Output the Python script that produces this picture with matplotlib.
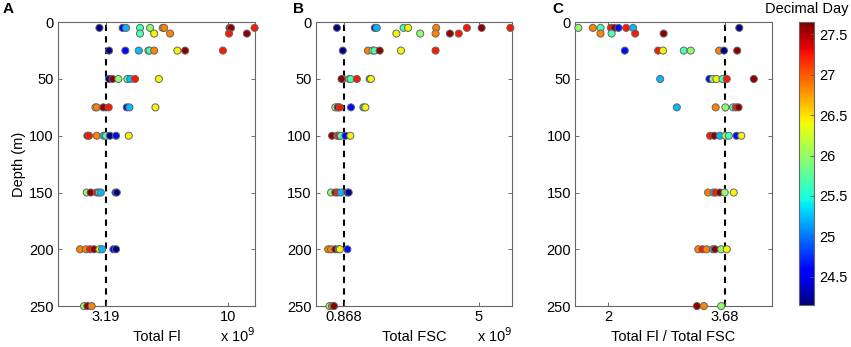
import numpy as np
import matplotlib
matplotlib.use('Agg')
import matplotlib.pyplot as plt

plt.rcParams['font.family'] = ['Liberation Sans', 'DejaVu Sans']
plt.rcParams['font.size'] = 10.5

# decimal day of each cast (colour codes)
N, B, C, Q, G, Y, O, R, D = 24.2, 24.62, 25.22, 25.68, 25.97, 26.42, 26.85, 27.25, 27.6

# Panel A: Total Fl (x 1e9)
fl_depth = [5, 5, 5, 5, 5, 5, 5, 5, 5, 5,
            10, 10, 10, 10, 10,
            25, 25, 25, 25, 25, 25, 25, 25, 25,
            50, 50, 50, 50, 50, 50, 50,
            75, 75, 75, 75, 75, 75, 75,
            100, 100, 100, 100, 100, 100, 100, 100,
            150, 150, 150, 150, 150, 150, 150,
            200, 200, 200, 200, 200, 200, 200, 200,
            250, 250, 250]
fl_value = [2.82, 4.12, 4.31, 5.09, 5.65, 6.36, 6.44, 10.09, 10.17, 11.49,
            5.09, 5.88, 6.77, 10.06, 11.06,
            3.36, 4.27, 5.02, 5.56, 5.62, 5.88, 7.18, 7.61, 9.72,
            3.36, 3.56, 3.88, 4.38, 4.55, 4.81, 6.14,
            2.60, 2.67, 3.04, 3.34, 4.35, 4.50, 5.95,
            2.15, 2.24, 2.67, 3.06, 3.19, 3.41, 3.75, 4.46,
            2.11, 2.33, 2.67, 2.80, 2.90, 3.72, 3.79,
            1.74, 2.07, 2.30, 2.52, 2.82, 2.97, 3.60, 3.75,
            1.96, 2.15, 2.39]
fl_day = [N, B, C, Q, G, O, O, D, D, R,
          Q, Y, O, R, D,
          N, B, C, G, Q, O, Y, D, R,
          N, D, G, Q, C, R, Y,
          G, O, D, R, B, C, Y,
          D, R, O, C, Q, N, B, Y,
          G, D, R, Q, C, B, N,
          O, O, R, D, Y, C, B, N,
          G, D, O]
fl_mean = 3.19

# Panel B: Total FSC (x 1e9)
fsc_depth = [5, 5, 5, 5, 5, 5, 5, 5, 5,
             10, 10, 10, 10, 10,
             25, 25, 25, 25, 25, 25, 25,
             50, 50, 50, 50, 50, 50, 50,
             75, 75, 75, 75, 75, 75, 75,
             100, 100, 100, 100, 100, 100,
             150, 150, 150, 150, 150, 150,
             200, 200, 200, 200, 200, 200,
             250, 250, 250]
fsc_value = [0.65, 1.81, 1.87, 2.69, 2.83, 3.69, 4.63, 5.08, 5.96,
             2.47, 3.20, 3.67, 4.11, 4.38,
             0.83, 1.60, 1.74, 1.80, 1.96, 2.61, 3.67,
             0.83, 0.79, 1.03, 1.07, 1.26, 1.65, 1.69,
             0.60, 0.68, 0.68, 0.74, 1.08, 1.46, 1.52,
             0.50, 0.66, 0.70, 0.77, 0.91, 1.06,
             0.47, 0.60, 0.67, 0.77, 0.97, 1.01,
             0.38, 0.47, 0.60, 0.70, 0.74, 0.97,
             0.42, 0.50, 0.56]
fsc_day = [N, B, C, Q, Y, O, R, D, R,
           Y, G, O, D, R,
           N, O, G, Q, D, Y, R,
           O, D, G, Q, R, C, Y,
           G, O, D, R, B, C, Y,
           D, O, R, Q, B, Y,
           G, D, R, C, B, N,
           O, O, D, C, Y, B,
           G, O, D]
fsc_mean = 0.868

# Panel C: Total Fl / Total FSC
ratio_depth = [5, 5, 5, 5, 5, 5, 5, 5, 5,
               10, 10, 10, 10,
               25, 25, 25, 25, 25, 25, 25, 25,
               50, 50, 50, 50, 50, 50, 50,
               75, 75, 75, 75, 75, 75,
               100, 100, 100, 100, 100, 100, 100,
               150, 150, 150, 150, 150, 150,
               200, 200, 200, 200, 200, 200, 200,
               250, 250, 250]
ratio_value = [1.57, 1.78, 1.89, 2.04, 2.09, 2.15, 2.26, 2.36, 3.89,
               1.89, 2.05, 2.39, 2.80,
               2.24, 2.72, 2.79, 3.09, 3.19, 3.60, 3.67, 3.86,
               2.75, 3.46, 3.51, 3.56, 3.65, 3.71, 4.10,
               2.99, 3.55, 3.69, 3.80, 3.84, 3.88,
               3.47, 3.53, 3.61, 3.69, 3.74, 3.85, 3.92,
               3.44, 3.52, 3.55, 3.61, 3.68, 3.81,
               3.30, 3.36, 3.42, 3.51, 3.54, 3.63, 3.71,
               3.28, 3.38, 3.63]
ratio_day = [G, O, Q, R, D, B, R, C, N,
             O, Q, R, D,
             B, R, Y, Q, G, O, N, D,
             C, B, G, Y, Q, R, D,
             C, O, G, Q, R, D,
             R, D, C, G, Q, B, Y,
             O, C, R, D, G, Y,
             O, R, O, C, D, G, Y,
             D, O, G]
ratio_mean = 3.68

day_min, day_max = 24.15, 27.65
cmap = plt.get_cmap('jet')

fig = plt.figure(figsize=(8.51, 3.47), dpi=100)

panels = [
    ('A', [0.068, 0.118, 0.232, 0.818], fl_depth, fl_value, fl_day, fl_mean,
     (0.5, 11.53), [fl_mean, 10], ['3.19', '10'], 'Total Fl', True),
    ('B', [0.371, 0.118, 0.231, 0.818], fsc_depth, fsc_value, fsc_day, fsc_mean,
     (0.0, 6.02), [fsc_mean, 5], ['0.868', '5'], 'Total FSC', True),
    ('C', [0.676, 0.118, 0.231, 0.818], ratio_depth, ratio_value, ratio_day, ratio_mean,
     (1.526, 4.36), [2, ratio_mean], ['2', '3.68'], 'Total Fl / Total FSC', False),
]

for letter, pos, dep, val, day, mean, xlim, xt, xtl, xlabel, sci in panels:
    ax = fig.add_axes(pos)
    ax.axvline(mean, color='black', linestyle='--', linewidth=1.5, dashes=(3, 2.5), zorder=1)
    sc = ax.scatter(val, dep, c=day, cmap=cmap, vmin=day_min, vmax=day_max,
                    s=26, edgecolors='#666666', linewidths=0.7, zorder=3, clip_on=False)
    ax.set_xlim(*xlim)
    ax.set_ylim(250, 0)
    ax.set_yticks([0, 50, 100, 150, 200, 250])
    ax.set_xticks(xt)
    ax.set_xticklabels(xtl)
    ax.tick_params(direction='in', top=True, right=True, length=3, width=0.6,
                   color='#555555', labelsize=10.5, pad=3)
    for s in ax.spines.values():
        s.set_color('#666666')
        s.set_linewidth(0.8)
    ax.set_xlabel(xlabel, fontsize=10.5, labelpad=4)
    if sci:
        ax.text(1.0, -0.128, r'x 10$^9$', transform=ax.transAxes, ha='right',
                va='baseline', fontsize=10.5)
    if letter == 'A':
        ax.set_ylabel('Depth (m)', fontsize=10.5, labelpad=2)
    fig.text(pos[0] - 0.065 if letter == 'A' else pos[0] - 0.027, 0.975, letter,
             fontsize=11, fontweight='bold', ha='left', va='center')

cax = fig.add_axes([0.939, 0.121, 0.0176, 0.815])
cb = fig.colorbar(sc, cax=cax)
cb.set_ticks([24.5, 25, 25.5, 26, 26.5, 27, 27.5])
cb.set_ticklabels(['24.5', '25', '25.5', '26', '26.5', '27', '27.5'])
cax.tick_params(direction='in', length=3, width=0.6, color='#555555', labelsize=10.5)
cb.outline.set_edgecolor('#666666')
cb.outline.set_linewidth(0.8)
fig.text(0.948, 0.975, 'Decimal Day', fontsize=10.5, ha='center', va='center')

fig.savefig('out.png', dpi=100)
